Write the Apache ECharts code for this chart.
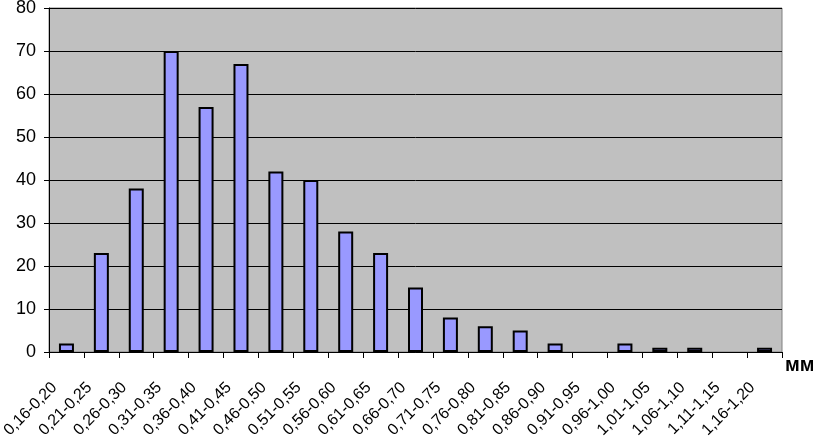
<!DOCTYPE html>
<html><head><meta charset="utf-8">
<script src="https://cdn.jsdelivr.net/npm/echarts@6/dist/echarts.min.js"></script>
<style>html,body{margin:0;padding:0;background:#fff}#c{width:813px;height:436px}</style>
</head><body><div id="c"></div>
<script>
var categories = ["0,16-0,20","0,21-0,25","0,26-0,30","0,31-0,35","0,36-0,40","0,41-0,45","0,46-0,50","0,51-0,55","0,56-0,60","0,61-0,65","0,66-0,70","0,71-0,75","0,76-0,80","0,81-0,85","0,86-0,90","0,91-0,95","0,96-1,00","1,01-1,05","1,06-1,10","1,11-1,15","1,16-1,20"];
var counts = [2,23,38,70,57,67,42,40,28,23,15,8,6,5,2,0,2,1,1,0,1];
var unitLabel = "мм";
var barData = counts.map(function(v){
  return v === 0 ? {value:v, itemStyle:{borderWidth:0}} : v;
});
var chart = echarts.init(document.getElementById('c'));
chart.setOption({
  animation:false,
  grid:{left:49,right:31,top:8,bottom:84,containLabel:false,outerBoundsMode:'none',show:true,backgroundColor:'#c0c0c0',borderColor:'#808080',borderWidth:1},
  xAxis:{type:'category',data:categories,
    axisLine:{lineStyle:{color:'#000',width:1}},
    axisTick:{show:true,alignWithLabel:false,length:6,lineStyle:{color:'#000'}},
    axisLabel:{rotate:45,interval:0,color:'#000',fontFamily:'Liberation Sans, Arial',fontSize:16,margin:21,padding:[0,17,0,0]},
    name:unitLabel,nameLocation:'end',nameGap:3,
    nameTextStyle:{color:'#000',fontFamily:'Liberation Sans, Arial',fontSize:20,fontWeight:'bold',verticalAlign:'top',padding:[3,0,0,0]}},
  yAxis:{type:'value',min:0,max:80,interval:10,
    axisLine:{show:true,lineStyle:{color:'#000'}},
    axisTick:{show:true,length:5,lineStyle:{color:'#000'}},
    axisLabel:{color:'#000',fontFamily:'Liberation Sans, Arial',fontSize:18,margin:13},
    splitLine:{lineStyle:{color:'#000',width:1}}},
  series:[{type:'bar',data:barData,barWidth:15,
    itemStyle:{color:'#9999ff',borderColor:'#000',borderWidth:2}}]
});
</script></body></html>
